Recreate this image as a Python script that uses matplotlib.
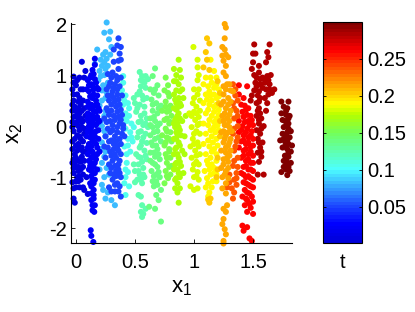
#!/usr/bin/env python3
"""Scatter of (x1, x2) coloured by t, lists of read-off points per time band."""
import numpy as np
import matplotlib
matplotlib.use('Agg')
import matplotlib.pyplot as plt
from matplotlib.colors import LinearSegmentedColormap

plt.rcParams['font.family'] = ['Liberation Sans', 'DejaVu Sans']
plt.rcParams['axes.unicode_minus'] = False

# (t, [(x1, x2), ...]), listed in drawing order
t_cyan = 0.085
pts_cyan = [(.26,2.03),(.24,1.83),(.29,1.85),(.28,1.7),(.3,1.55),(.18,1.5),(.25,1.45),(.29,1.4),(.21,1.3),(.24,1.25),
            (.16,1.22),(.27,1.18),(.2,1.08),(.24,1.0),(.19,.9),(.27,.85),(.22,.7),(.25,.55),(.2,.4),(.24,.2),
            (.22,.0),(.25,-.2),(.21,-.45),(.24,-.6),(.2,-.85),(.24,-1.0),(.28,-.95),(.22,-1.15),(.27,-1.3),(.3,-1.45),
            (.33,-1.55),(.25,-1.42),(.23,1.4),(.26,1.32),(.22,1.18),(.25,1.12),(.21,.98),(.23,.8),(.26,.65),(.22,.5),
            (.25,.3),(.21,.1),(.24,-.1),(.22,-.32),(.25,-.5),(.22,-.72),(.26,-.82),(.23,-1.25)]
t_c2 = 0.105
pts_c2 = [(.4,.85),(.39,.7),(.42,.6),(.4,.42),(.45,.35),(.42,.25),(.43,.1),(.47,.05),(.42,-.05),(.46,-.12),
          (.44,-.25),(.48,-.3),(.41,-.4),(.43,-.55),(.46,-.5),(.43,-.72),(.44,-.9),(.42,-1.0),(.45,-1.18),(.42,-1.35),
          (.49,-.02),(.4,.98),(.41,.5),(.44,.45),(.41,.15),(.45,.2),(.44,-.38),(.42,-.85),(.41,-1.12),(.47,-.22)]
t_b1 = 0.01
pts_b1 = [(-.02,.97),(-.03,.72),(.0,.8),(.01,.62),(-.02,.5),(.03,.55),(.02,.35),(-.03,.3),(.0,.2),(.04,.15),
          (-.01,.05),(.02,.0),(.05,-.02),(-.02,-.1),(.01,-.18),(.04,-.25),(-.03,-.3),(.0,-.38),(.03,-.45),(-.01,-.55),
          (.05,-.6),(.02,-.68),(-.03,-.72),(.0,-.8),(.04,-.85),(-.02,-.92),(.01,-1.0),(-.03,-1.1),(.0,-1.2),(.04,-1.05),
          (-.02,-1.42),(-.01,-1.5),(.02,-1.08),(.06,-1.2),(.05,.3),(.06,.72),(.07,.95),(.05,1.26),(.08,1.08),(.03,.95),
          (.06,.5),(.08,.2),(.07,-.15),(.08,-.5),(.06,-.8),(.09,-1.0),(.07,-1.25),(.02,.15),(-.01,.38),(.03,-.2),
          (.0,-.62),(.05,.08),(-.03,.08),(.02,-.88),(.1,-1.33),(-.02,.85),(.01,.9),(.04,.72),(-.02,.62),(.02,.48),
          (-.03,.42),(.04,.42),(.0,.3),(.07,.35),(-.02,.18),(.03,.25),(.06,.1),(.01,.08),(-.03,-.02),(.03,-.08),
          (.07,-.05),(-.01,-.25),(.06,-.3),(.02,-.35),(-.03,-.45),(.01,-.48),(.06,-.5),(-.02,-.65),(.04,-.7),(-.01,-.72),
          (.07,-.68),(.02,-.8),(-.02,-.82),(.06,-.95),(.03,-.98),(.0,-1.08),(.03,-1.2),(-.02,-1.22),(.05,-.42)]
t_b2 = 0.022
pts_b2 = [(.125,-2.04),(.147,-2.27),(.13,-2.15),(.155,-1.68),(.14,-1.55),(.15,-1.42),(.13,-1.32),(.15,-1.25),(.12,-1.12),(.16,-1.05),
          (.13,-.98),(.11,-.85),(.15,-.8),(.12,-.7),(.17,-.65),(.1,-.55),(.14,-.5),(.18,-.42),(.11,-.35),(.15,-.3),
          (.09,-.2),(.13,-.15),(.17,-.1),(.11,.0),(.15,.05),(.19,.08),(.1,.15),(.14,.2),(.17,.28),(.12,.35),
          (.16,.4),(.1,.48),(.14,.55),(.18,.6),(.11,.68),(.15,.72),(.13,.82),(.17,.85),(.12,.95),(.15,1.02),
          (.14,1.1),(.16,1.2),(.16,1.32),(.1,.25),(.13,-.4),(.16,-.6),(.19,-.25),(.12,-.05),(.2,.3),(.18,-.85),
          (.16,.15),(.1,.9),(.09,.72),(.18,.42),(.15,-1.12),(.13,-1.45),(.19,.72),(.2,-.5),(.13,1.0),(.16,.92),
          (.11,.8),(.14,.78),(.18,.75),(.12,.58),(.15,.62),(.17,.5),(.1,.38),(.13,.42),(.19,.35),(.15,.3),
          (.12,.22),(.18,.18),(.11,.08),(.14,.12),(.17,.02),(.13,-.02),(.1,-.1),(.15,-.12),(.19,-.08),(.12,-.22),
          (.16,-.2),(.14,-.28),(.1,-.42),(.17,-.35),(.12,-.5),(.15,-.58),(.13,-.62),(.18,-.55),(.11,-.68),(.14,-.75),
          (.16,-.72),(.13,-.88),(.16,-.92),(.14,-1.05),(.13,-1.18),(.15,-1.35),(.16,-1.55),(.14,-1.65),(.12,-.78),(.2,.1)]
t_b3 = 0.048
pts_b3 = [(.32,1.5),(.36,1.72),(.38,1.55),(.35,1.58),(.37,1.42),(.32,1.26),(.36,1.28),(.38,1.3),(.36,1.12),(.31,1.05),
          (.27,1.02),(.34,.98),(.38,.95),(.29,.85),(.33,.82),(.37,.78),(.26,.72),(.31,.68),(.35,.62),(.39,.6),
          (.28,.5),(.33,.48),(.37,.42),(.26,.35),(.3,.3),(.35,.28),(.39,.22),(.24,.15),(.29,.1),(.33,.12),
          (.37,.05),(.4,.02),(.27,-.05),(.31,-.08),(.35,-.12),(.39,-.15),(.25,-.2),(.3,-.28),(.34,-.3),(.38,-.35),
          (.27,-.42),(.32,-.45),(.36,-.48),(.3,-.58),(.34,-.62),(.37,-.68),(.28,-.75),(.33,-.78),(.36,-.85),(.29,-.92),
          (.34,-.98),(.38,-1.0),(.31,-1.05),(.35,-1.12),(.37,-1.18),(.28,-1.2),(.36,-1.28),(.38,-1.38),(.33,-1.28),(.24,-.4),
          (.4,-.05),(.41,-.2),(.36,.18),(.32,.55),(.25,-.62),(.3,.95),(.35,.9),(.28,.78),(.32,.75),(.35,.72),
          (.3,.6),(.27,.6),(.36,.52),(.3,.42),(.34,.38),(.28,.22),(.32,.2),(.38,.12),(.26,.08),(.31,.02),
          (.35,-.02),(.29,-.12),(.33,-.2),(.37,-.25),(.28,-.3),(.32,-.35),(.35,-.4),(.29,-.5),(.33,-.55),(.38,-.55),
          (.31,-.68),(.36,-.75),(.3,-.82),(.34,-.88),(.32,-.95),(.37,-.92),(.33,-1.15),(.3,-1.28),(.27,.3),(.38,.32)]
t_g1 = 0.125
pts_g1 = [(.54,1.06),(.56,.98),(.59,.98),(.57,.88),(.61,.92),(.55,.78),(.59,.75),(.52,.62),(.56,.6),(.6,.55),
          (.5,.45),(.54,.42),(.58,.38),(.51,.28),(.55,.2),(.6,.15),(.53,.08),(.57,.02),(.61,-.02),(.55,-.1),
          (.59,-.15),(.52,-.22),(.56,-.3),(.6,-.33),(.54,-.42),(.58,-.48),(.51,-.55),(.55,-.62),(.6,-.65),(.53,-.75),
          (.57,-.82),(.5,-.88),(.54,-.95),(.58,-1.0),(.52,-1.05),(.56,-1.12),(.5,-1.1),(.53,-1.35),(.55,-1.38),(.56,-1.55),
          (.55,-1.68),(.57,-1.72),(.56,-1.78),(.59,-1.62),(.49,.55),(.49,-.75),(.55,.9),(.58,.85),(.54,.68),(.57,.52),
          (.52,.35),(.58,.25),(.55,.1),(.59,.05),(.53,-.12),(.57,-.22),(.55,-.38),(.59,-.58),(.53,-.6),(.56,-.7),
          (.53,-.88),(.57,-.95),(.55,-1.05)]
t_g2 = 0.14
pts_g2 = [(.67,1.13),(.65,.98),(.69,.8),(.63,.72),(.66,.65),(.7,.6),(.64,.52),(.68,.45),(.72,.4),(.65,.3),
          (.69,.25),(.63,.15),(.67,.1),(.71,.05),(.65,-.02),(.69,-.1),(.63,-.18),(.67,-.25),(.72,-.3),(.65,-.38),
          (.69,-.45),(.63,-.52),(.67,-.6),(.71,-.65),(.65,-.72),(.69,-.8),(.64,-.88),(.68,-.95),(.71,-1.0),(.65,-1.08),
          (.69,-1.15),(.72,-1.25),(.68,-1.35),(.7,-1.45),(.67,-1.62),(.72,-1.87),(.62,-1.58),(.66,-1.18),(.67,.72),(.65,.42),
          (.7,.35),(.66,.18),(.63,.02),(.69,.0),(.66,-.12),(.7,-.22),(.64,-.32),(.68,-.38),(.66,-.52),(.7,-.55),
          (.63,-.68),(.67,-.75),(.7,-.9),(.66,-.98),(.68,-1.08)]
t_g3 = 0.155
pts_g3 = [(.76,.95),(.78,.8),(.75,.7),(.79,.58),(.76,.48),(.8,.4),(.77,.28),(.81,.2),(.75,.12),(.79,.05),
          (.76,-.05),(.8,-.12),(.77,-.22),(.81,-.3),(.75,-.38),(.79,-.45),(.76,-.55),(.8,-.62),(.77,-.72),(.81,-.78),
          (.76,-.88),(.8,-.95),(.78,-1.02),(.75,-1.12),(.73,-.18),(.73,.3),(.78,.65),(.76,.38),(.79,.3),(.77,.15),
          (.8,.08),(.77,-.1),(.79,-.25),(.76,-.32),(.79,-.5),(.77,-.62),(.79,-.8),(.77,-.98)]
t_y1 = 0.17
pts_y1 = [(.87,1.3),(.83,1.12),(.88,1.1),(.85,1.0),(.89,.95),(.83,.88),(.87,.82),(.85,.7),(.9,.72),(.83,.62),
          (.87,.55),(.85,.45),(.89,.4),(.83,.35),(.87,.25),(.85,.15),(.9,.1),(.83,.05),(.87,-.02),(.85,-.12),
          (.89,-.18),(.83,-.25),(.87,-.32),(.85,-.42),(.9,-.48),(.83,-.55),(.87,-.62),(.85,-.72),(.89,-.78),(.83,-.85),
          (.87,-.92),(.85,-1.02),(.86,-1.12),(.84,-1.22),(.88,-1.22),(.86,-1.3),(.87,-1.5),(.91,.55),(.93,.2),(.92,-.2),
          (.92,-.55),(.91,-.92),(.85,.88),(.88,.68),(.84,.52),(.88,.45),(.85,.32),(.88,.15),(.84,.12),(.86,.05),
          (.88,-.08),(.85,-.25),(.88,-.38),(.84,-.45),(.86,-.55),(.88,-.7),(.84,-.75),(.86,-.85),(.88,-1.0),(.84,-1.05),
          (.86,.2),(.86,-.18),(.87,.38),(.84,-.02)]
t_y2 = 0.18
pts_y2 = [(.995,1.55),(1.03,1.3),(1.03,1.15),(1.04,1.0),(1.03,.9),(1.0,.72),(1.03,.62),(.99,.45),(1.02,.38),(1.05,.3),
          (.98,.2),(1.01,.12),(1.05,.05),(.98,-.02),(1.02,-.1),(1.05,-.15),(.99,-.25),(1.03,-.32),(.97,-.4),(1.01,-.48),
          (1.05,-.55),(.98,-.62),(1.02,-.7),(1.04,-.75),(.99,-.85),(1.03,-.9),(1.0,-1.0),(1.04,-1.05),(.97,-1.18),(1.0,-1.25),
          (1.03,-1.22),(.96,.25),(1.02,.25),(1.04,.18),(1.0,.28),(1.03,.02),(1.0,-.15),(1.04,-.4),(1.0,-.35),(1.02,-.58),
          (1.0,-.75),(1.02,-.98),(1.05,.5),(1.04,.72),(1.0,.55)]
t_y3 = 0.19
pts_y3 = [(1.14,1.3),(1.17,1.08),(1.1,.95),(1.14,.95),
          (1.19,.95),(1.08,.82),(1.12,.78),(1.17,.75),(1.21,.72),(1.1,.62),(1.14,.6),(1.19,.55),(1.08,.45),(1.13,.42),
          (1.17,.38),(1.21,.32),(1.1,.25),(1.15,.2),(1.19,.15),(1.08,.05),(1.12,.02),(1.17,-.02),(1.21,-.08),(1.1,-.15),
          (1.15,-.2),(1.19,-.25),(1.08,-.35),(1.13,-.4),(1.17,-.45),(1.1,-.55),(1.14,-.62),(1.19,-.68),(1.12,-.75),(1.17,-.82),
          (1.09,-.88),(1.14,-.95),(1.11,-1.02),(1.16,-1.08),(1.12,-1.12),(1.1,-1.2),(1.13,-1.3),(1.12,-1.38),(1.19,-1.08),(1.15,.85),
          (1.19,.82),(1.13,.68),(1.17,.62),(1.21,.58),(1.11,.52),(1.15,.5),(1.19,.42),(1.12,.32),(1.17,.28),(1.21,.22),
          (1.13,.12),(1.17,.08),(1.2,.02),(1.14,-.08),(1.18,-.12),(1.12,-.28),(1.16,-.32),(1.2,-.38),(1.15,-.5),(1.19,-.55),
          (1.11,-.68),(1.15,-.75),(1.13,-.85),(1.17,-.92),(1.19,-.95),(1.15,-1.2)]
t_y4 = 0.205
pts_y4 = [(1.11,1.72),(1.13,1.62),(1.1,1.45),(1.11,1.3),(1.08,1.15),(1.13,1.1),(1.13,-1.5),(1.12,-1.44),(1.14,-1.42),(1.2,.88),
          (1.22,.65),(1.21,.45),(1.22,.1),(1.22,-.2),(1.2,-.62),(1.2,-.85),(1.19,-1.0)]
t_r3 = 0.297
pts_r3 = [(1.74,.48),(1.8,.48),(1.76,.38),(1.79,.35),(1.74,.25),(1.78,.22),(1.81,.2),(1.77,.1),(1.8,.05),(1.76,-.02),
          (1.8,-.05),(1.82,-.1),(1.75,-.15),(1.78,-.18),(1.81,-.22),(1.73,-.28),(1.77,-.3),(1.8,-.35),(1.83,-.38),(1.75,-.42),
          (1.79,-.45),(1.82,-.5),(1.77,-.58),(1.8,-.6),(1.76,-.68),(1.79,-.72),(1.82,-.72),(1.76,-.8),(1.78,-.85),(1.81,-.88),
          (1.79,-.96),(1.74,-.9),(1.75,.12),(1.78,.3),(1.8,.15),(1.78,.0),(1.79,-.12),(1.76,-.25),(1.79,-.28),(1.77,-.4),
          (1.8,-.52),(1.78,-.66),(1.8,-.8),(1.78,-.75)]
t_r2 = 0.284
pts_r2 = [(1.51,1.6),(1.64,1.6),(1.5,1.42),(1.52,1.42),(1.62,1.45),(1.63,1.35),(1.5,1.25),(1.61,1.25),(1.49,1.12),(1.55,1.18),
          (1.51,1.0),(1.55,1.05),(1.58,.95),(1.62,.98),(1.65,1.0),(1.52,.85),(1.56,.82),(1.6,.85),(1.64,.82),(1.68,.72),
          (1.51,.7),(1.55,.68),(1.49,.6),(1.56,.55),(1.63,.62),(1.66,.65),(1.53,.45),(1.62,.45),(1.55,.35),(1.61,.3),
          (1.53,.2),(1.57,.15),(1.55,.05),(1.59,.0),(1.53,-.08),(1.56,-.15),(1.54,-.25),(1.58,-.32),(1.56,-.42),(1.54,-.52),
          (1.57,-.6),(1.55,-.7),(1.54,-.95),(1.59,-.95),(1.48,.5),(1.53,.95),(1.56,.92),(1.6,.92),(1.63,.9),(1.53,.78),
          (1.58,.75),(1.61,.72),(1.54,.6),(1.64,.72),(1.55,.48),(1.6,.55),(1.54,.3),(1.56,.25),(1.55,.12),(1.57,-.05),
          (1.55,-.32),(1.57,-.5)]
t_r1 = 0.258
pts_r1 = [(1.38,.8),(1.45,.78),(1.38,.62),(1.42,.55),(1.4,.42),(1.44,.32),(1.48,.2),(1.42,.18),(1.46,.1),(1.38,.1),
          (1.5,.02),(1.41,.0),(1.45,-.05),(1.49,-.1),(1.38,-.12),(1.42,-.18),(1.46,-.22),(1.5,-.25),(1.4,-.3),(1.44,-.35),
          (1.48,-.4),(1.38,-.42),(1.42,-.48),(1.46,-.55),(1.5,-.58),(1.4,-.62),(1.44,-.68),(1.48,-.72),(1.42,-.8),(1.46,-.85),
          (1.5,-.88),(1.4,-.92),(1.44,-1.0),(1.48,-1.02),(1.42,-1.1),(1.46,-1.15),(1.5,-1.2),(1.43,-1.25),(1.47,-1.32),(1.41,-1.38),
          (1.45,-1.45),(1.5,-1.48),(1.43,-1.55),(1.48,-1.6),(1.45,-1.68),(1.5,-1.72),(1.41,-1.95),(1.45,-1.98),(1.42,-2.05),(1.47,-2.2),
          (1.49,-2.25),(1.43,.4),(1.46,.35),(1.41,.28),(1.45,.22),(1.49,.12),(1.43,.08),(1.47,.02),(1.4,-.08),(1.44,-.12),
          (1.48,-.18),(1.42,-.28),(1.46,-.32),(1.5,-.38),(1.44,-.45),(1.48,-.5),(1.42,-.58),(1.46,-.65),(1.5,-.72),(1.44,-.78),
          (1.48,-.85),(1.42,-.95),(1.46,-.98),(1.5,-1.05),(1.44,-1.12),(1.48,-1.18),(1.45,-1.3),(1.49,-1.38),(1.44,-1.42),(1.47,-1.52)]
t_o2 = 0.238
pts_o2 = [(1.33,.82),(1.35,.6),(1.33,.45),(1.36,.3),(1.34,.15),(1.37,.0),(1.33,-.15),(1.36,-.3),(1.34,-.48),(1.37,-.62),
          (1.33,-.78),(1.36,-.92),(1.34,-1.05),(1.3,-1.1),(1.32,-1.22),(1.28,-1.2),(1.36,-1.15),(1.34,-1.3),(1.3,-.95),(1.33,-1.42),
          (1.37,.5),(1.34,.35),(1.37,.2),(1.34,-.05),(1.37,-.22),(1.35,-.4),(1.37,-.8),(1.34,-.68),(1.35,.72),(1.36,-1.02)]
t_o1 = 0.215
pts_o1 = [(1.26,2.0),(1.27,1.93),(1.26,1.72),(1.24,1.55),(1.26,1.5),(1.24,1.38),(1.27,1.4),(1.29,1.35),(1.25,1.28),(1.27,1.18),
          (1.25,1.05),(1.27,.98),(1.3,.82),(1.27,.72),(1.33,.68),(1.25,.62),(1.29,.55),(1.23,.42),(1.27,.35),(1.31,.3),
          (1.24,.2),(1.28,.15),(1.26,.02),(1.3,-.02),(1.23,-.12),(1.27,-.18),(1.31,-.25),(1.25,-.32),(1.29,-.38),(1.23,-.48),
          (1.27,-.52),(1.25,-.65),(1.29,-.7),(1.23,-.82),(1.27,-.88),(1.24,-1.0),(1.27,-1.12),(1.24,-1.22),(1.27,-1.32),(1.25,-1.62),
          (1.27,-1.68),(1.25,-1.82),(1.24,-1.92),(1.26,-2.02),(1.27,-2.12),(1.25,-2.25),(1.25,-2.3),(1.28,-1.55),(1.3,.1),(1.28,.82),
          (1.25,.78),(1.31,.7),(1.29,.42),(1.25,.48),(1.31,.48),(1.26,.25),(1.3,.22),(1.25,.1),(1.28,.02),(1.25,-.1),
          (1.29,-.12),(1.32,-.1),(1.26,-.25),(1.3,-.32),(1.27,-.42),(1.31,-.48),(1.28,-.62),(1.25,-.75),(1.3,-.58),(1.29,-.82),
          (1.26,-.95),(1.29,-1.02)]

t_ticks = [0.05, 0.1, 0.15, 0.2, 0.25]
t_tick_labels = ['0.05', '0.1', '0.15', '0.2', '0.25']
x_ticks = [0, 0.5, 1, 1.5]
x_tick_labels = ['0', '0.5', '1', '1.5']
y_ticks = [-2, -1, 0, 1, 2]

bands = [(t_cyan, pts_cyan), (t_c2, pts_c2), (t_b1, pts_b1), (t_b2, pts_b2), (t_b3, pts_b3),
         (t_g1, pts_g1), (t_g2, pts_g2), (t_g3, pts_g3), (t_y1, pts_y1), (t_y2, pts_y2),
         (t_y3, pts_y3), (t_y4, pts_y4), (t_r3, pts_r3), (t_r2, pts_r2), (t_r1, pts_r1), (t_o2, pts_o2), (t_o1, pts_o1)]

x1 = np.concatenate([[p[0] for p in pts] for t, pts in bands])
x2 = np.concatenate([[p[1] for p in pts] for t, pts in bands])
tt = np.concatenate([[t] * len(pts) for t, pts in bands])

# colours: like jet, but a paler cyan and a brighter blue end
nodes = [(0, (0, 0, 0.85)), (0.08, (0, 0, 1)), (0.17, (0.12, 0.3, 1)), (0.33, (0.3, 1, 1)), (0.5, (0.45, 1, 0.35)),
         (0.58, (0.7, 1, 0)), (0.63, (1, 1, 0)), (0.875, (1, 0, 0)), (1, (0.5, 0, 0))]
cmap = LinearSegmentedColormap.from_list('jet_like', nodes, N=64)

W, H = 415, 312
fig = plt.figure(figsize=(W / 100, H / 100), dpi=100)
ax = fig.add_axes([71 / W, 1 - 243 / H, 221 / W, 220 / H])
sc = ax.scatter(x1, x2, c=tt, s=19, cmap=cmap, vmin=0.0014, vmax=0.2995, linewidths=0, clip_on=False)
ax.set_xlim(-0.042, 1.83)
ax.set_ylim(-2.29, 2.02)
ax.spines['top'].set_visible(False)
ax.spines['right'].set_visible(False)
ax.set_xticks(x_ticks)
ax.set_xticklabels(x_tick_labels)
ax.set_yticks(y_ticks)
ax.tick_params(direction='in', length=3, width=0.6, labelsize=14.5)
ax.tick_params(axis='x', pad=7)
ax.tick_params(axis='y', pad=3)
ax.set_xlabel('x$_{\\mathregular{1}}$', fontsize=16, labelpad=4)
ax.set_ylabel('x$_{\\mathregular{2}}$', fontsize=16, labelpad=17)

cax = fig.add_axes([323 / W, 1 - 243 / H, 39 / W, 221 / H])
cb = fig.colorbar(sc, cax=cax)
cb.set_ticks(t_ticks)
cb.set_ticklabels(t_tick_labels)
cax.tick_params(direction='in', length=2, width=0.6, labelsize=14.5, left=True, right=True, pad=4)
cax.set_xlabel('t', fontsize=14.5, labelpad=7)

fig.savefig('out.png', dpi=100)
